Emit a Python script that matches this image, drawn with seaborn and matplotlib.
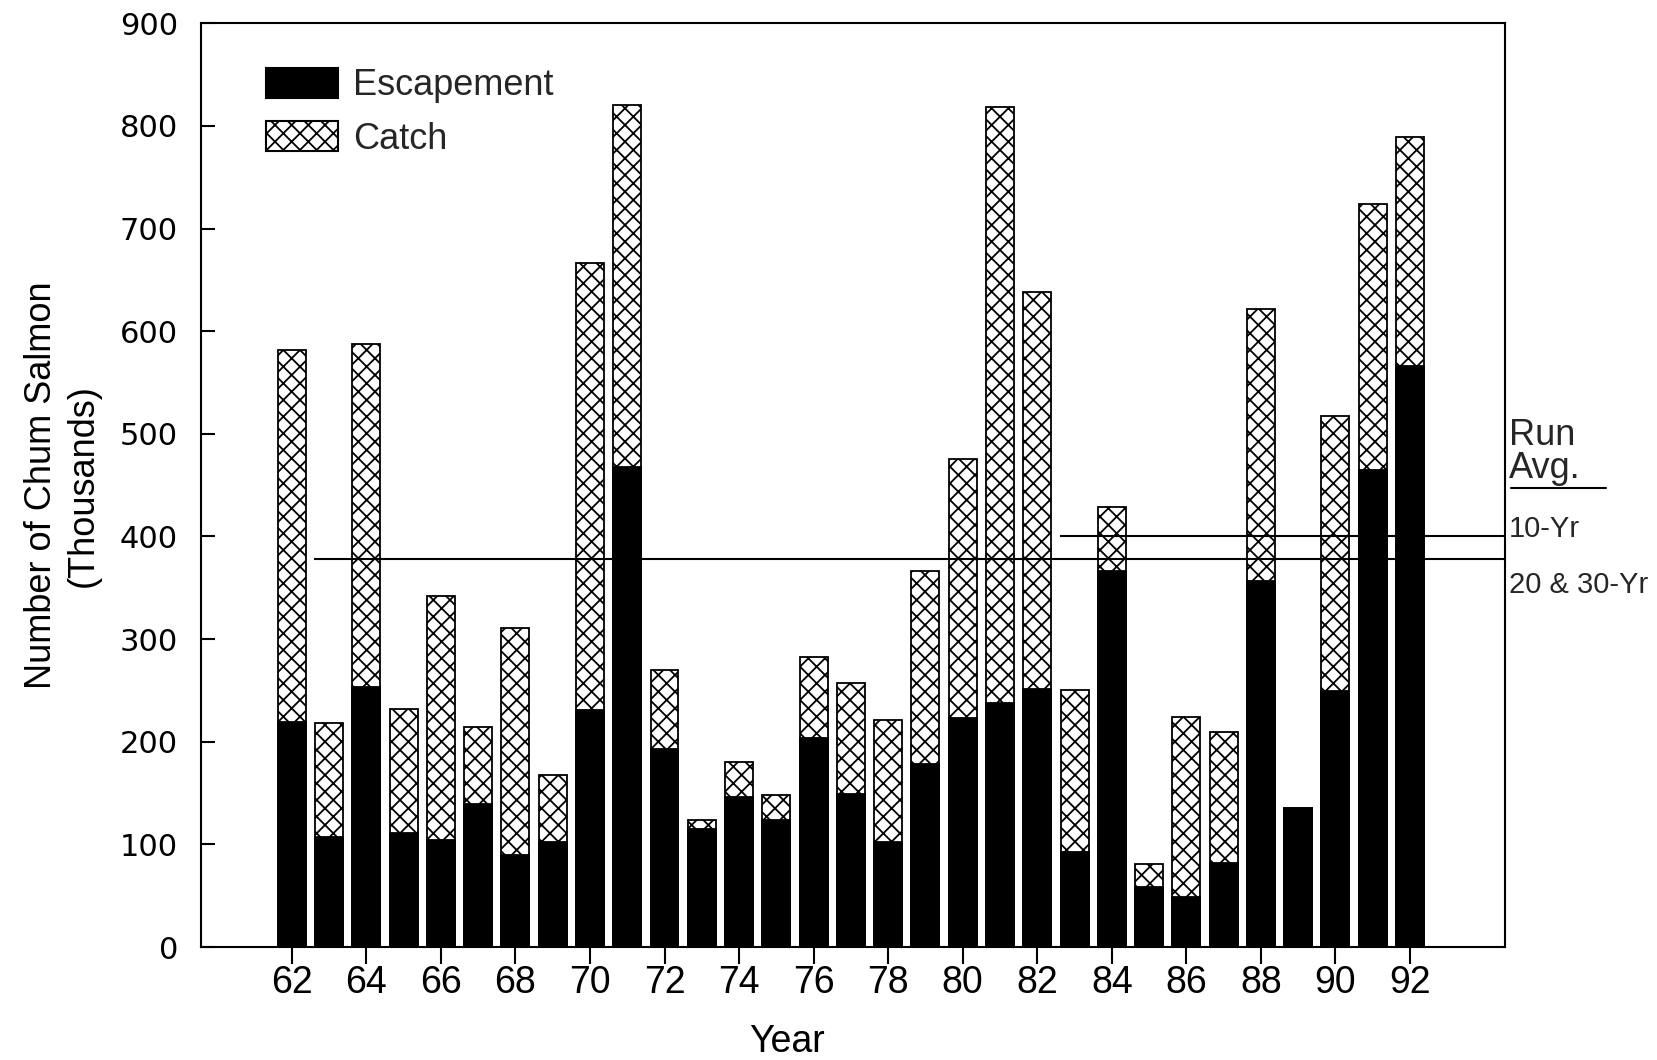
import matplotlib
matplotlib.use("Agg")
import matplotlib.pyplot as plt
import pandas as pd
import seaborn as sns
from matplotlib.patches import Patch
from matplotlib.transforms import blended_transform_factory

# Chum salmon returns, thousands of fish
years = list(range(62, 93))
escapement = [219, 107, 253, 111, 104, 139, 90, 102, 231, 468, 193, 115, 146, 124, 204,
              149, 102, 178, 223, 238, 251, 93, 366, 58, 49, 82, 357, 135, 249, 465, 566]
catch = [363, 111, 334, 121, 238, 75, 221, 66, 435, 352, 77, 9, 34, 24, 79,
         108, 119, 188, 252, 580, 387, 157, 63, 23, 175, 127, 265, 0, 268, 259, 223]

# Run averages: value and first year of the averaging period
avg_labels = ["10-Yr", "20 & 30-Yr"]
avg_values = [400, 378]
avg_start_years = [83, 63]

x_ticks = list(range(62, 93, 2))
y_ticks = list(range(0, 901, 100))

df = pd.DataFrame({"year": years, "escapement": escapement, "catch": catch})
df["run"] = df["escapement"] + df["catch"]

sns.set_theme(style="white")
plt.rcParams["font.family"] = ["Liberation Sans", "DejaVu Sans"]
plt.rcParams["hatch.linewidth"] = 1.3

fig = plt.figure(figsize=(16.57, 10.6), dpi=100)
ax = fig.add_axes([0.1212, 0.1066, 0.7871, 0.8715])

bar_w = 0.75
edge_lw = 1.3

# Full run drawn hatched, escapement laid over its lower part
sns.barplot(data=df, x="year", y="run", native_scale=True, width=bar_w,
            color="white", saturation=1, edgecolor="black", linewidth=edge_lw,
            hatch="xx", errorbar=None, ax=ax)
sns.barplot(data=df, x="year", y="escapement", native_scale=True, width=bar_w,
            color="black", saturation=1, edgecolor="black", linewidth=edge_lw,
            errorbar=None, ax=ax)

x_min, x_max = 59.56, 94.55
ax.set_xlim(x_min, x_max)
ax.set_ylim(0, 900)

# Run-average lines, from the first bar of each period to the right edge
for val, start in zip(avg_values, avg_start_years):
    ax.hlines(val, start - 0.4, x_max, color="black", linewidth=1.5, zorder=5)

ax.set_xticks(x_ticks)
ax.set_xticklabels([str(t) for t in x_ticks], fontsize=27)
ax.set_yticks(y_ticks)
ax.set_yticklabels([str(t) for t in y_ticks], fontsize=22, family=["DejaVu Sans"])

ax.tick_params(axis="y", direction="in", length=10, width=1.5, pad=16.5, colors="black")
ax.tick_params(axis="x", direction="out", length=12, width=1.5, pad=1, colors="black")
ax.tick_params(axis="x", bottom=True)
ax.tick_params(axis="y", left=True)

for s in ax.spines.values():
    s.set_visible(True)
    s.set_color("black")
    s.set_linewidth(1.5)

ax.set_ylabel("Number of Chum Salmon\n(Thousands)", fontsize=26, color="black",
              linespacing=1.25)
ax.yaxis.set_label_coords(-0.077, 0.5)
ax.set_xlabel("Year", fontsize=27, color="black")
ax.xaxis.set_label_coords(0.4495, -0.083)

handles = [Patch(facecolor="black", edgecolor="black", linewidth=1.5),
           Patch(facecolor="white", edgecolor="black", linewidth=1.5, hatch="xx")]
ax.legend(handles, ["Escapement", "Catch"], loc="upper left",
          bbox_to_anchor=(0.05, 0.952), frameon=False, fontsize=26,
          handlelength=2.0, handleheight=0.9, handletextpad=0.4,
          labelspacing=0.5, borderpad=0, borderaxespad=0)

# Right-hand annotation block
tr = blended_transform_factory(ax.transAxes, ax.transData)
ax.text(1.003, 457, "Run\nAvg.", transform=tr, fontsize=26, va="baseline",
        ha="left", linespacing=0.93)
ax.plot([1.0047, 1.0777], [447.5, 447.5], transform=tr, color="black",
        linewidth=1.5, clip_on=False)
ax.text(1.003, 399, avg_labels[0], transform=tr, fontsize=21, va="baseline", ha="left")
ax.text(1.003, 345, avg_labels[1], transform=tr, fontsize=21, va="baseline", ha="left")

fig.savefig("out.png", dpi=100)
